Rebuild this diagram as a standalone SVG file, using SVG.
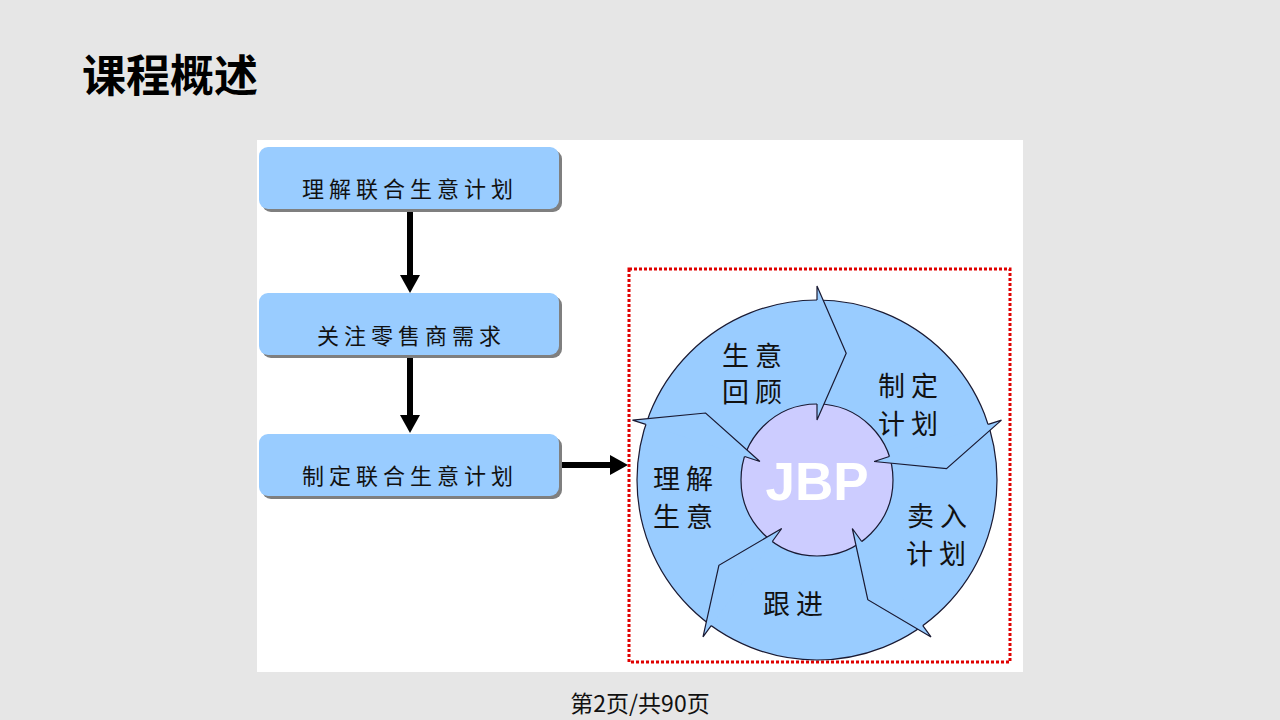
<svg xmlns="http://www.w3.org/2000/svg" width="1280" height="720" viewBox="0 0 1280 720">
<defs>
<style>
.cjk{font-family:"Noto Sans CJK SC","Noto Sans",sans-serif;}
.box{fill:#99CCFF;}
.shadow{fill:#7f7f7f;}
.btxt{font-size:22px;letter-spacing:5px;fill:#111;}
.ctxt{font-size:27px;letter-spacing:6px;fill:#111;}
.seg{fill:#99CCFF;stroke:none;}
.edge{fill:none;stroke:#1a1a33;stroke-width:1.2;stroke-linejoin:miter;}
.conn{stroke:#000;stroke-width:6;fill:none;}
.head{fill:#000;}
</style>
</defs>
<rect width="1280" height="720" fill="#e6e6e6"/>
<text class="cjk" x="82" y="92" font-size="44" font-weight="700" fill="#000">课程概述</text>
<rect x="257" y="140" width="766" height="532" fill="#ffffff"/>

<g id="node-understand">
<rect class="shadow" x="262" y="150" width="300" height="62" rx="9"/>
<rect class="box" x="259" y="147" width="300" height="62" rx="9"/>
<text class="cjk btxt" x="302" y="197">理解联合生意计划</text>
</g>
<g id="node-focus">
<rect class="shadow" x="262" y="296" width="300" height="62" rx="9"/>
<rect class="box" x="259" y="293" width="300" height="62" rx="9"/>
<text class="cjk btxt" x="317" y="344">关注零售商需求</text>
</g>
<g id="node-make">
<rect class="shadow" x="262" y="437" width="300" height="62" rx="9"/>
<rect class="box" x="259" y="434" width="300" height="62" rx="9"/>
<text class="cjk btxt" x="302" y="484">制定联合生意计划</text>
</g>

<g id="connectors">
<line class="conn" x1="410" y1="212" x2="410" y2="276"/>
<polygon class="head" points="400,275 420,275 410,293"/>
<line class="conn" x1="410" y1="358" x2="410" y2="416"/>
<polygon class="head" points="400,415 420,415 410,433"/>
<line class="conn" x1="562" y1="465" x2="612" y2="465"/>
<polygon class="head" points="610,455 610,475 628,465"/>
</g>

<g id="jbp-cycle">
<rect x="629" y="269" width="381" height="393" fill="none" stroke="#e00000" stroke-width="3" stroke-dasharray="3 2"/>
<circle cx="817" cy="480" r="180" fill="#99CCFF" stroke="#1a1a33" stroke-width="1.2"/>
<circle cx="817" cy="480" r="76" fill="#CCCCFF" stroke="#1a1a33" stroke-width="1.2"/>
<g id="arrowheads">
<polygon class="seg" points="817,286 846.2,353.3 817,420"/>
<path class="edge" d="M817,300 L817,286 L846.2,353.3 L817,420 L817,404"/>
<polygon class="seg" points="1001.5,420.1 946.5,468.7 874.1,461.5"/>
<path class="edge" d="M988.2,424.4 L1001.5,420.1 L946.5,468.7 L874.1,461.5 L889.3,456.5"/>
<polygon class="seg" points="931,636.9 867.8,599.7 852.3,528.5"/>
<path class="edge" d="M922.8,625.6 L931,636.9 L867.8,599.7 L852.3,528.5 L861.7,541.5"/>
<polygon class="seg" points="703,636.9 718.9,565.3 781.7,528.5"/>
<path class="edge" d="M711.2,625.6 L703,636.9 L718.9,565.3 L781.7,528.5 L772.3,541.5"/>
<polygon class="seg" points="632.5,420.1 705.6,413 759.9,461.5"/>
<path class="edge" d="M645.8,424.4 L632.5,420.1 L705.6,413 L759.9,461.5 L744.7,456.5"/>
</g>
<g id="node-review"><text class="cjk ctxt" x="722" y="366">生意</text><text class="cjk ctxt" x="722" y="402">回顾</text></g>
<g id="node-plan"><text class="cjk ctxt" x="878" y="396">制定</text><text class="cjk ctxt" x="878" y="434">计划</text></g>
<g id="node-sellin"><text class="cjk ctxt" x="907" y="526">卖入</text><text class="cjk ctxt" x="906" y="564">计划</text></g>
<g id="node-follow"><text class="cjk ctxt" x="763" y="614">跟进</text></g>
<g id="node-understand-biz"><text class="cjk ctxt" x="653" y="489">理解</text><text class="cjk ctxt" x="653" y="527">生意</text></g>
<g id="node-jbp"><text x="817" y="500" text-anchor="middle" font-family="'Liberation Sans',Arial,sans-serif" font-weight="700" font-size="53" fill="#ffffff">JBP</text></g>
</g>

<text class="cjk" x="640" y="712" text-anchor="middle" font-size="23" fill="#111">第2页/共90页</text>
</svg>
